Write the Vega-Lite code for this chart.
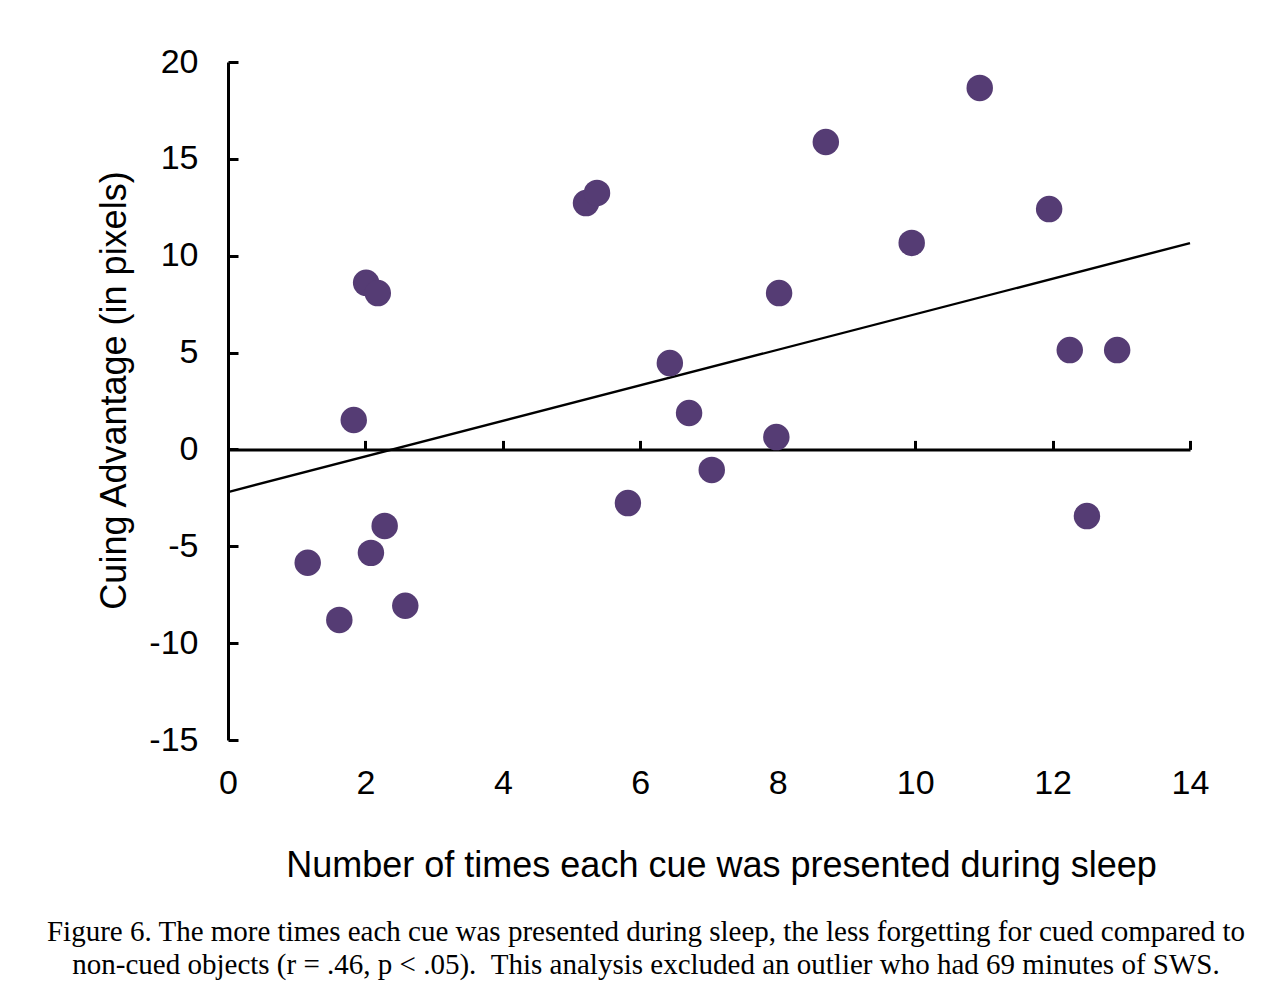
{
  "$schema": "https://vega.github.io/schema/vega-lite/v6.json",
  "width": 962,
  "height": 678,
  "autosize": {"type": "none"},
  "padding": {"left": 228, "top": 62, "right": 93, "bottom": 243},
  "background": "white",
  "config": {
    "view": {"stroke": null},
    "axis": {"grid": false, "labelFont": "Liberation Sans", "titleFont": "Liberation Sans", "labelColor": "black", "titleColor": "black", "domainColor": "black", "tickColor": "black"}
  },
  "title": {
    "text": ["Figure 6. The more times each cue was presented during sleep, the less forgetting for cued compared to", "non-cued objects (r = .46, p < .05). \u00a0This analysis excluded an outlier who had 69 minutes of SWS."],
    "orient": "bottom",
    "anchor": "middle",
    "dx": -63,
    "font": "Liberation Serif",
    "fontSize": 29,
    "fontWeight": "normal",
    "color": "black",
    "lineHeight": 33,
    "offset": 35
  },
  "layer": [
    {
      "data": {"values": [{"x": 0, "y": -2.2}, {"x": 14, "y": 10.65}]},
      "mark": {"type": "line", "color": "black", "strokeWidth": 2.4},
      "encoding": {
        "x": {"field": "x", "type": "quantitative", "scale": {"domain": [0, 14], "nice": false},
          "axis": {"orient": "top", "offset": -387.4, "labels": false, "title": null, "values": [0, 2, 4, 6, 8, 10, 12, 14], "domainWidth": 3, "tickWidth": 3, "tickSize": 9}},
        "y": {"field": "y", "type": "quantitative", "scale": {"domain": [-15, 20], "nice": false},
          "axis": {"orient": "left", "values": [-15, -10, -5, 0, 5, 10, 15, 20], "labelExpr": "replace(datum.label, '\u2212', '-')", "domainWidth": 3, "tickWidth": 3, "tickSize": -10, "labelPadding": 40, "labelFontSize": 34, "title": "Cuing Advantage (in pixels)", "titleFontSize": 36, "titleFontWeight": "normal", "titlePadding": 15, "titleY": 328}}
      }
    },
    {
      "data": {"values": [
        {"x": 1.16, "y": -5.85},
        {"x": 1.62, "y": -8.8},
        {"x": 1.83, "y": 1.52},
        {"x": 2.01, "y": 8.6},
        {"x": 2.18, "y": 8.07},
        {"x": 2.08, "y": -5.34},
        {"x": 2.28, "y": -3.95},
        {"x": 2.58, "y": -8.07},
        {"x": 5.21, "y": 12.72},
        {"x": 5.37, "y": 13.24},
        {"x": 5.82, "y": -2.77},
        {"x": 6.43, "y": 4.46},
        {"x": 6.71, "y": 1.88},
        {"x": 7.04, "y": -1.06},
        {"x": 7.98, "y": 0.64},
        {"x": 8.02, "y": 8.07},
        {"x": 8.7, "y": 15.87},
        {"x": 9.95, "y": 10.66},
        {"x": 10.94, "y": 18.66},
        {"x": 11.95, "y": 12.41},
        {"x": 12.25, "y": 5.13},
        {"x": 12.5, "y": -3.44},
        {"x": 12.94, "y": 5.13}
      ]},
      "mark": {"type": "circle", "size": 700, "color": "#553C74", "opacity": 1},
      "encoding": {
        "x": {"field": "x", "type": "quantitative",
          "axis": {"orient": "bottom", "domain": false, "ticks": false, "values": [0, 2, 4, 6, 8, 10, 12, 14], "labelFlush": false, "labelPadding": 26, "labelFontSize": 34, "title": "Number of times each cue was presented during sleep", "titleFontSize": 36, "titleFontWeight": "normal", "titlePadding": 48, "titleX": 493}},
        "y": {"field": "y", "type": "quantitative"}
      }
    }
  ],
  "resolve": {"axis": {"x": "independent"}}
}
